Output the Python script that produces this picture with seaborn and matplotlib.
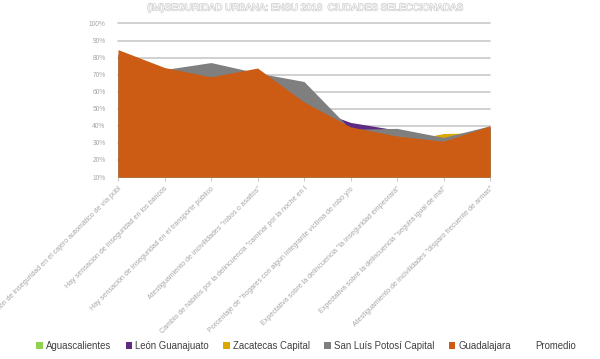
import matplotlib
matplotlib.use("Agg")
import matplotlib.pyplot as plt
from matplotlib.patches import Patch
import matplotlib.patheffects as pe
import seaborn as sns
import numpy as np

categories = [
    "Percepción de inseguridad en el cajero automático de vía públ",
    "Hay sensación de inseguridad en los bancos",
    "Hay sensación de inseguridad en el transporte público",
    "Atestiguamiento de incivilidades \"robos o asaltos\"",
    "Cambio de hábitos por la delincuencia \"caminar por la noche en l",
    "Porcentaje de \"hogares con algún integrante víctima de robo y/o",
    "Expectativa sobre la delincuencia \"la inseguridad empeorará\"",
    "Expectativa sobre la delincuencia \"seguirá igual de mal\"",
    "Atestiguamiento de incivilidades \"disparo frecuente de armas\"",
]

aguascalientes = [0.80, 0.70, 0.65, 0.68, 0.50, 0.36, 0.32, 0.29, 0.38]
leon = [0.82, 0.72, 0.66, 0.70, 0.52, 0.42, 0.375, 0.30, 0.39]
zacatecas = [0.81, 0.71, 0.67, 0.69, 0.51, 0.35, 0.30, 0.355, 0.36]
san_luis = [0.82, 0.73, 0.771, 0.71, 0.66, 0.38, 0.385, 0.332, 0.40]
guadalajara = [0.847, 0.742, 0.687, 0.739, 0.540, 0.394, 0.340, 0.310, 0.400]

series_names = ["Aguascalientes", "León Guanajuato", "Zacatecas Capital",
                "San Luís Potosí Capital", "Guadalajara", "Promedio"]
series_values = [aguascalientes, leon, zacatecas, san_luis, guadalajara]
colors = ["#92d050", "#5f2a84", "#dba700", "#7f7f7f", "#cc5c14"]

yticks = [0.10, 0.20, 0.30, 0.40, 0.50, 0.60, 0.70, 0.80, 0.90, 1.00]
ytick_labels = ["10%", "20%", "30%", "40%", "50%", "60%", "70%", "80%", "90%", "100%"]

sns.set_theme(style="white")
plt.rcParams["font.family"] = ["Liberation Sans", "DejaVu Sans"]

fig = plt.figure(figsize=(6.0, 3.59), dpi=100)
ax = fig.add_axes([118 / 600, 1 - 177 / 359, 372 / 600, (177 - 23.5) / 359])

x = np.arange(len(categories))
ymin = 0.10
for vals, c in zip(series_values, colors):
    ax.fill_between(x, ymin, vals, color=c, linewidth=0, zorder=2)

ax.set_xlim(0, len(categories) - 1)
ax.set_ylim(ymin, 1.0)
ax.set_yticks(yticks)
ax.set_yticklabels(ytick_labels)
for y in yticks[1:]:
    ax.axhline(y, color="#c4c4c4", lw=1.1, zorder=1, clip_on=False)

ax.set_xticks(x)
ax.set_xticklabels(categories, rotation=45, ha="right", rotation_mode="anchor",
                   fontsize=5.1, color="#a6a6a6")
ax.tick_params(axis="x", bottom=True, length=3, width=0.6, color="#bfbfbf", pad=3)
ax.tick_params(axis="y", left=False, labelsize=4.8, labelcolor="#a6a6a6", pad=3)
for s in ax.spines.values():
    s.set_visible(False)

fig.text(0.508, 1 - 7.5 / 359, "(IM)SEGURIDAD URBANA: ENSU 2018  CIUDADES SELECCIONADAS",
         ha="center", va="center", fontsize=7.0, color="white",
         path_effects=[pe.withStroke(linewidth=0.9, foreground="#cccccc")])

handles = [Patch(facecolor=c, edgecolor="none") for c in colors] + \
          [Patch(facecolor="none", edgecolor="none")]
leg = fig.legend(handles, series_names, loc="center", ncol=6,
                 bbox_to_anchor=(0.51, 1 - 346 / 359), frameon=False,
                 fontsize=6.9, handlelength=0.7, handleheight=0.7,
                 handletextpad=0.3, columnspacing=1.5)
for t in leg.get_texts():
    t.set_color("#404040")

fig.savefig("out.png", dpi=100)
